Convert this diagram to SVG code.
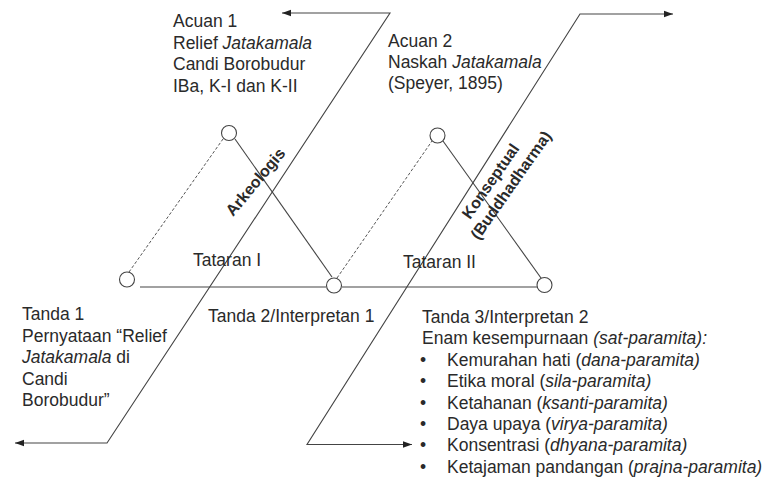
<svg xmlns="http://www.w3.org/2000/svg" width="770" height="480" viewBox="0 0 770 480">
<style>
  text { font-family: "Liberation Sans", Arial, sans-serif; font-size: 17.5px; fill: #2a2a2a; }
  .it { font-style: italic; }
  .rot { font-weight: bold; font-size: 16px; }
  .ln { fill: none; stroke: #444; stroke-width: 1.1; }
  .dash { fill: none; stroke: #555; stroke-width: 1; stroke-dasharray: 3 2; }
  .node { fill: #fff; stroke: #444; stroke-width: 1.1; }
</style>
<defs>
  <marker id="ah" markerUnits="userSpaceOnUse" markerWidth="10" markerHeight="8" refX="9" refY="4" orient="auto-start-reverse">
    <path d="M0,0.8 L9,4 L0,7.2 Z" fill="#222"/>
  </marker>
</defs>
<rect width="770" height="480" fill="#fff"/>

<g id="connectors">
  <polyline class="ln" points="282,13 390,13 107,443 15,443" marker-start="url(#ah)" marker-end="url(#ah)"/>
  <polyline class="ln" points="673,14 580,14 307,444.5 412,444.5" marker-start="url(#ah)" marker-end="url(#ah)"/>
  <line class="ln" x1="140" y1="287" x2="326" y2="287"/>
  <line class="ln" x1="342" y1="287" x2="537" y2="287"/>
  <line class="dash" x1="129" y1="272" x2="223" y2="139"/>
  <line class="ln" x1="235" y1="139" x2="332" y2="277"/>
  <line class="dash" x1="337" y1="278" x2="432" y2="141"/>
  <line class="ln" x1="443" y1="141" x2="541" y2="278"/>
  <g transform="translate(233,217) rotate(-50)"><text class="rot" font-size="15.5" x="0" y="0">Arkeologis</text></g>
  <g transform="translate(470,220) rotate(-55)">
    <text class="rot" x="0" y="0">Konseptual</text>
    <text class="rot" x="-12" y="19">(Buddhadharma)</text>
  </g>
</g>

<g id="n-tanda1">
  <circle class="node" cx="127" cy="279.5" r="7.5"/>
  <text x="22" y="320">Tanda 1</text>
  <text x="22" y="341.5">Pernyataan “Relief</text>
  <text x="22" y="363"><tspan class="it">Jatakamala</tspan> di</text>
  <text x="22" y="384.5">Candi</text>
  <text x="22" y="406">Borobudur”</text>
</g>

<g id="n-acuan1">
  <circle class="node" cx="229" cy="133" r="7.5"/>
  <text x="173" y="27">Acuan 1</text>
  <text x="173" y="48.5">Relief <tspan class="it">Jatakamala</tspan></text>
  <text x="173" y="70">Candi Borobudur</text>
  <text x="173" y="91.5">IBa, K-I dan K-II</text>
</g>

<g id="n-tanda2">
  <circle class="node" cx="334" cy="285.5" r="7.5"/>
  <text x="208" y="321.5">Tanda 2/Interpretan 1</text>
</g>

<g id="n-acuan2">
  <circle class="node" cx="437.5" cy="135.5" r="7.5"/>
  <text x="388" y="46.5">Acuan 2</text>
  <text x="388" y="67.5">Naskah <tspan class="it">Jatakamala</tspan></text>
  <text x="388" y="88.5">(Speyer, 1895)</text>
</g>

<g id="n-tanda3">
  <circle class="node" cx="544.5" cy="285" r="7.5"/>
  <text x="422" y="323">Tanda 3/Interpretan 2</text>
  <text x="422" y="344.4">Enam kesempurnaan <tspan class="it">(sat-paramita):</tspan></text>
  <text x="420" y="365.8">•</text><text x="447" y="365.8">Kemurahan hati (<tspan class="it">dana-paramita)</tspan></text>
  <text x="420" y="387.2">•</text><text x="447" y="387.2">Etika moral (<tspan class="it">sila-paramita)</tspan></text>
  <text x="420" y="408.6">•</text><text x="447" y="408.6">Ketahanan (<tspan class="it">ksanti-paramita)</tspan></text>
  <text x="420" y="430">•</text><text x="447" y="430">Daya upaya (<tspan class="it">virya-paramita)</tspan></text>
  <text x="420" y="451.4">•</text><text x="447" y="451.4">Konsentrasi (<tspan class="it">dhyana-paramita)</tspan></text>
  <text x="420" y="472.8">•</text><text x="447" y="472.8">Ketajaman pandangan (<tspan class="it">prajna-paramita)</tspan></text>
</g>

<g id="labels">
  <text x="193" y="266">Tataran I</text>
  <text x="403" y="268">Tataran II</text>
</g>
</svg>
